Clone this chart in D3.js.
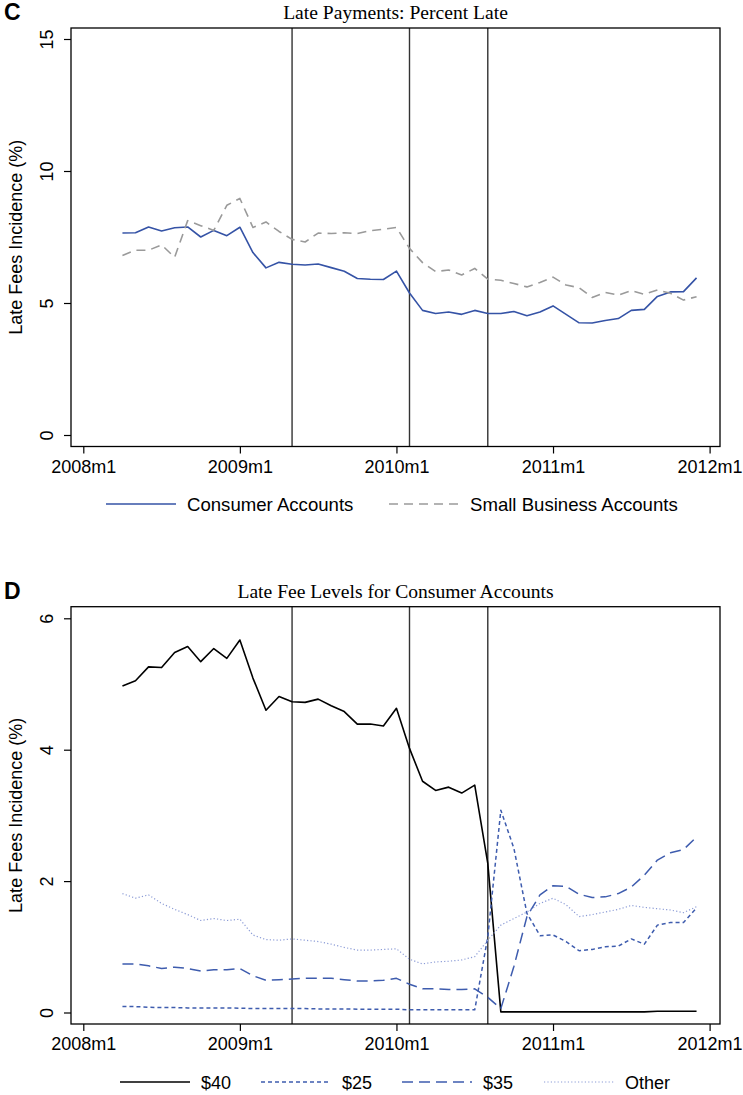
<!DOCTYPE html>
<html>
<head>
<meta charset="utf-8">
<script src="https://cdn.jsdelivr.net/npm/d3@7"></script>
<style>
  body { margin: 0; background: #fff; }
  svg { display: block; }
</style>
</head>
<body>
<svg id="chart" width="743" height="1095"></svg>
<script>
// monthly observations, 2008m4 .. 2011m12
const firstMonth = "2008m4";

const consumer = [
  7.65, 7.66, 7.88, 7.73, 7.85, 7.88, 7.50, 7.75, 7.55,
  7.87, 6.91, 6.33, 6.54, 6.47, 6.44, 6.48, 6.34, 6.20, 5.93, 5.90, 5.89,
  6.21, 5.38, 4.72, 4.60, 4.66, 4.57, 4.72, 4.60, 4.60, 4.68, 4.52, 4.66,
  4.89, 4.57, 4.25, 4.24, 4.34, 4.41, 4.72, 4.76, 5.25, 5.42, 5.43, 5.95
];
const smallBusiness = [
  6.80, 7.00, 7.00, 7.20, 6.73, 8.12, 7.93, 7.75, 8.70,
  8.96, 7.86, 8.07, 7.71, 7.41, 7.31, 7.65, 7.63, 7.66, 7.63, 7.74, 7.79,
  7.86, 7.07, 6.53, 6.19, 6.25, 6.06, 6.31, 5.90, 5.86, 5.74, 5.61, 5.78,
  5.98, 5.68, 5.58, 5.21, 5.40, 5.30, 5.47, 5.33, 5.49, 5.37, 5.11, 5.24
];

const fee40 = [
  4.97, 5.05, 5.26, 5.25, 5.48, 5.57, 5.34, 5.54, 5.39,
  5.67, 5.09, 4.60, 4.81, 4.73, 4.72, 4.77, 4.67, 4.58, 4.39, 4.39, 4.36,
  4.63, 4.02, 3.52, 3.38, 3.43, 3.34, 3.46, 2.27, 0.01, 0.01, 0.01, 0.01,
  0.01, 0.01, 0.01, 0.01, 0.01, 0.01, 0.01, 0.01, 0.02, 0.02, 0.02, 0.02
];
const fee25 = [
  0.09, 0.09, 0.08, 0.075, 0.075, 0.07, 0.07, 0.07, 0.07,
  0.065, 0.06, 0.06, 0.06, 0.06, 0.06, 0.055, 0.055, 0.055, 0.05, 0.05, 0.05,
  0.05, 0.04, 0.04, 0.04, 0.04, 0.04, 0.04, 1.15, 3.08, 2.50, 1.51, 1.17,
  1.18, 1.08, 0.94, 0.96, 1.00, 1.01, 1.12, 1.04, 1.33, 1.37, 1.37, 1.59
];
const fee35 = [
  0.74, 0.74, 0.71, 0.67, 0.69, 0.67, 0.63, 0.65, 0.65,
  0.67, 0.56, 0.49, 0.50, 0.51, 0.52, 0.52, 0.52, 0.50, 0.48, 0.48, 0.49,
  0.52, 0.43, 0.36, 0.36, 0.35, 0.35, 0.36, 0.23, 0.06, 0.70, 1.46, 1.79,
  1.93, 1.92, 1.80, 1.75, 1.76, 1.81, 1.91, 2.09, 2.32, 2.43, 2.48, 2.67
];
const feeOther = [
  1.81, 1.74, 1.79, 1.66, 1.57, 1.49, 1.40, 1.43, 1.40,
  1.42, 1.18, 1.11, 1.10, 1.12, 1.10, 1.08, 1.04, 0.99, 0.95, 0.95, 0.96,
  0.97, 0.81, 0.74, 0.77, 0.78, 0.80, 0.85, 1.10, 1.33, 1.43, 1.53, 1.66,
  1.74, 1.64, 1.46, 1.49, 1.53, 1.57, 1.63, 1.60, 1.58, 1.56, 1.52, 1.61
];

const xTickLabels = ["2008m1", "2009m1", "2010m1", "2011m1", "2012m1"];
const eventMonths = ["2009m5", "2010m2", "2010m8"];
const yTicksC = [0, 5, 10, 15];
const yTicksD = [0, 2, 4, 6];

// "2008m4" -> months since 2008m1
const monthIndex = s => {
  const [y, m] = s.split("m").map(Number);
  return (y - 2008) * 12 + (m - 1);
};
const start = monthIndex(firstMonth);

const svg = d3.select("#chart");
const sans = "'Liberation Sans', Arial, sans-serif";
const serif = "'Liberation Serif', 'Times New Roman', serif";

const x = d3.scaleLinear()
  .domain([0, 48])
  .range([83.3, 709.6]);

function drawPanel(opts) {
  const { letter, title, top, bottom, yTicks, yRange, series, legend, legendY } = opts;
  const left = 71, right = 720;
  const y = d3.scaleLinear()
    .domain([0, yTicks[yTicks.length - 1]])
    .range(yRange);

  const g = svg.append("g");

  g.append("text")
    .attr("x", 4).attr("y", top - 8)
    .attr("font-family", sans).attr("font-weight", "bold")
    .attr("font-size", 23)
    .text(letter);

  g.append("text")
    .attr("x", (left + right) / 2).attr("y", top - 9)
    .attr("text-anchor", "middle")
    .attr("font-family", serif).attr("font-size", 19.6)
    .text(title);

  // y axis, Stata style: labels turned on their side
  const yAxis = g.append("g")
    .attr("transform", `translate(${left},0)`)
    .call(d3.axisLeft(y).tickValues(yTicks).tickSize(7).tickSizeOuter(0).tickFormat(d3.format("d")));
  yAxis.select(".domain").remove();
  yAxis.selectAll("line").attr("stroke", "#000").attr("stroke-width", 1.2);
  yAxis.selectAll("text")
    .attr("x", null).attr("dy", null)
    .attr("transform", "translate(-18,0) rotate(-90)")
    .attr("text-anchor", "middle")
    .attr("font-family", sans).attr("font-size", 18).attr("fill", "#000");

  const xAxis = g.append("g")
    .attr("transform", `translate(0,${bottom})`)
    .call(d3.axisBottom(x)
      .tickValues(xTickLabels.map(monthIndex))
      .tickSize(7).tickSizeOuter(0)
      .tickFormat((d, i) => xTickLabels[i]));
  xAxis.select(".domain").remove();
  xAxis.selectAll("line").attr("stroke", "#000").attr("stroke-width", 1.2);
  xAxis.selectAll("text")
    .attr("y", 26).attr("dy", null)
    .attr("font-family", sans).attr("font-size", 18).attr("fill", "#000");

  g.append("text")
    .attr("transform", `translate(22,${(top + bottom) / 2}) rotate(-90)`)
    .attr("text-anchor", "middle")
    .attr("font-family", sans).attr("font-size", 18)
    .text("Late Fees Incidence (%)");

  // event lines
  g.selectAll("line.event")
    .data(eventMonths)
    .join("line")
    .attr("class", "event")
    .attr("x1", d => x(monthIndex(d))).attr("x2", d => x(monthIndex(d)))
    .attr("y1", top).attr("y2", bottom)
    .attr("stroke", "#333").attr("stroke-width", 1.4);

  const line = d3.line()
    .x((d, i) => x(start + i))
    .y(d => y(d));

  series.forEach(s => {
    g.append("path")
      .datum(s.values)
      .attr("fill", "none")
      .attr("stroke", s.color)
      .attr("stroke-width", s.width)
      .attr("stroke-dasharray", s.dash)
      .attr("stroke-linejoin", "round")
      .attr("d", line);
  });

  g.append("rect")
    .attr("x", left).attr("y", top)
    .attr("width", right - left).attr("height", bottom - top)
    .attr("fill", "none").attr("stroke", "#000").attr("stroke-width", 1.3);

  // legend
  const lg = g.append("g").attr("transform", `translate(0,${legendY})`);
  legend.forEach(item => {
    const s = series[item.series];
    lg.append("line")
      .attr("x1", item.x).attr("x2", item.x + 70)
      .attr("y1", 0).attr("y2", 0)
      .attr("stroke", s.color).attr("stroke-width", s.width)
      .attr("stroke-dasharray", s.dash);
    lg.append("text")
      .attr("x", item.x + 81).attr("y", 6.5)
      .attr("font-family", sans).attr("font-size", item.size || 18)
      .text(s.name);
  });
}

drawPanel({
  letter: "C",
  title: "Late Payments: Percent Late",
  top: 28,
  bottom: 446.5,
  yTicks: yTicksC,
  yRange: [435, 39],
  series: [
    { name: "Consumer Accounts", values: consumer, color: "#3553a6", width: 1.6, dash: null },
    { name: "Small Business Accounts", values: smallBusiness, color: "#9a9a9a", width: 1.6, dash: "9,6" }
  ],
  legend: [{ series: 0, x: 106, size: 18.6 }, { series: 1, x: 389, size: 18.6 }],
  legendY: 504
});

drawPanel({
  letter: "D",
  title: "Late Fee Levels for Consumer Accounts",
  top: 606.7,
  bottom: 1024,
  yTicks: yTicksD,
  yRange: [1012.5, 618.3],
  series: [
    { name: "$40", values: fee40, color: "#000", width: 1.6, dash: null },
    { name: "$25", values: fee25, color: "#3e5cae", width: 1.5, dash: "4,3" },
    { name: "$35", values: fee35, color: "#3e5cae", width: 1.5, dash: "11,6" },
    { name: "Other", values: feeOther, color: "#8b9bd6", width: 1.2, dash: "1.2,2.2" }
  ],
  legend: [
    { series: 0, x: 120 }, { series: 1, x: 261 },
    { series: 2, x: 402 }, { series: 3, x: 544 }
  ],
  legendY: 1082
});
</script>
</body>
</html>
